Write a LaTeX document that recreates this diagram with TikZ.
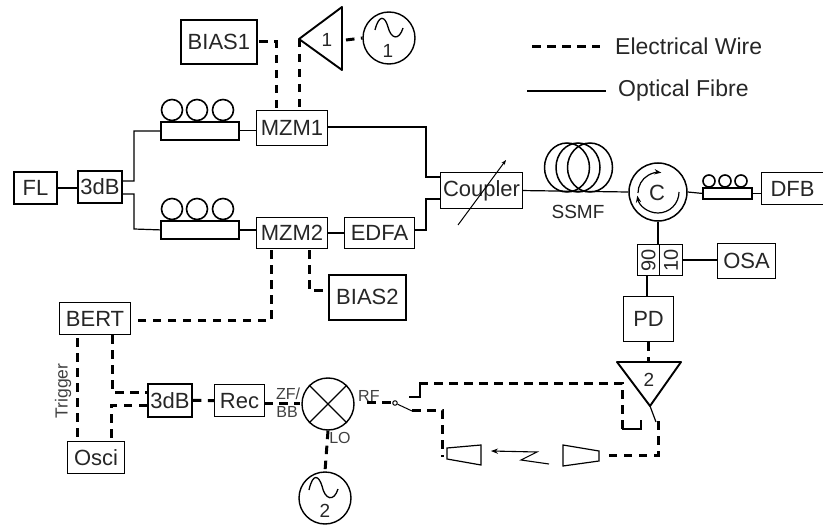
\documentclass[tikz,border=0pt]{standalone}
\usepackage{fontspec}
\setmainfont{Liberation Sans}
\usetikzlibrary{arrows.meta}
\tikzset{
 box/.style={draw,line width=1.1pt,inner sep=0pt,font=\fontsize{22}{22}\selectfont,text=black!85},
 thickbox/.style={box,line width=1.8pt},
 fibre/.style={line width=1.2pt},
 wire/.style={line width=3pt,dash pattern=on 8.5pt off 6.5pt},
 thinwire/.style={line width=1.6pt},
 lab/.style={inner sep=0pt,font=\fontsize{22}{22}\selectfont,text=black!85},
 digit/.style={lab,font=\fontsize{19}{19}\selectfont},
 legendtext/.style={lab,anchor=west,font=\fontsize{23}{23}\selectfont},
 small/.style={inner sep=0pt,font=\fontsize{16}{16}\selectfont,text=black!75},
 coilc/.style={draw,line width=1.6pt,fill=white,circle,inner sep=0pt},
 src/.style={draw,line width=1.4pt,circle,inner sep=0pt,minimum size=52pt},
}
\newcommand{\bx}[6][box]{\node[#1,minimum width=#4pt-#2pt,minimum height=#5pt-#3pt,anchor=north west] (#6) at (#2,#3)}
\begin{document}
\begin{tikzpicture}[x=1pt,y=-1pt]
\useasboundingbox (0,0) rectangle (823,527);
% boxes
\bx[thickbox]{180}{19}{256}{63}{bias1} {BIAS1};
\bx{256}{110}{327}{145}{mzm1} {MZM1};
\bx{256}{217}{327}{248}{mzm2} {MZM2};
\bx{344}{217}{414}{248}{edfa} {EDFA};
\bx[thickbox]{13}{171}{56}{203}{fl} {FL};
\bx[thickbox]{77}{170}{121}{202}{tdb} {3dB};
\bx{440}{172}{522}{208}{coupler} {Coupler};
\bx{761}{172}{823}{204}{dfb} {DFB};
\bx{717}{243}{775}{278}{osa} {OSA};
\bx{623}{296}{673}{341}{pd} {PD};
\bx[thickbox]{328}{274}{405}{319}{bias2} {BIAS2};
\bx{59}{302}{130}{334}{bert} {BERT};
\bx{67}{441}{124}{473}{osci} {Osci};
\bx[thickbox]{147}{383}{191}{416}{tdbb} {3dB};
\bx{214}{384}{264}{416}{rec} {Rec};
% splitter
\bx{637}{244}{659}{275}{s90} {};
\bx{659}{244}{682}{275}{s10} {};
\node[digit,rotate=90,font=\fontsize{20}{20}\selectfont] at (s90) {90};
\node[digit,rotate=90,font=\fontsize{20}{20}\selectfont] at (s10) {10};
% polarisation controllers
\bx[thickbox]{160}{121}{238}{139}{pc1} {};
\bx[thickbox]{160}{220}{238}{238}{pc2} {};
\bx[thickbox]{702}{187}{751}{198}{pc3} {};
\foreach \n/\x in {a/172,b/197,c/223}{
 \node[coilc,minimum size=21pt] (pa\n) at (\x,110) {};
 \node[coilc,minimum size=21pt] (pb\n) at (\x,209) {};
}
\foreach \n/\x in {a/709,b/725,c/741}{
 \node[coilc,minimum size=12pt] (pc\n) at (\x,181) {};
}
% amplifier 1
\coordinate (a1t) at (299,39); \coordinate (a1u) at (342,7); \coordinate (a1d) at (342,70);
\draw[line width=1.9pt,line join=round] (a1t)--(a1u)--(a1d)--cycle;
\node[digit] (a1l) at (327,40) {1};
\node[src] (s1) at (389,38) {};
\draw[line width=1.3pt] (375,30) .. controls (379,14) and (385,16) .. (388,27) .. controls (391,39) and (399,41) .. (403,28);
\node[digit] at (388,51) {1};
% amplifier 2
\coordinate (a2l) at (617,362); \coordinate (a2r) at (681,362); \coordinate (a2t) at (650,406);
\draw[line width=1.9pt,line join=round] (a2l)--(a2r)--(a2t)--cycle;
\node[digit] at (649,380) {2};
% mixer
\node[src] (mix) at (328,404) {};
\draw[line width=1.3pt] (mix.45)--(mix.225) (mix.135)--(mix.315);
\node[src] (s2) at (325,498) {};
\draw[line width=1.3pt] (309,490) .. controls (313,472) and (319,476) .. (322,486) .. controls (325,500) and (334,502) .. (338,489);
\node[digit] at (325,511) {2};
% circulator
\node[draw,line width=1.5pt,circle,inner sep=0pt,minimum size=58pt] (circ) at (658,192) {};
\node[lab] at (657,193) {C};
\draw[line width=1.2pt,-{Stealth[length=7pt]}] (679,192) arc (0:170:21);
\draw[line width=1.2pt,-{Stealth[length=7pt]}] (638,193) arc (180:278:20.5);
% fibre
\coordinate (tu) at (121,181); \coordinate (td) at (121,194);
\coordinate (cu) at (440,177); \coordinate (cd) at (440,199);
\coordinate (m1o) at (327,127); \coordinate (e1o) at (414,230);
\coordinate (s90o) at (647,275); \coordinate (pdi) at (647,296);
\draw[fibre] (fl.east)--(fl.east-|tdb.west);
\draw[fibre] (tu) -| (134,131) -- (pc1.west);
\draw[fibre] (td) -| (134,229) -- (pc2.west);
\draw[fibre] (pc1.east) -- (pc1.east-|mzm1.west);
\draw[fibre] (pc2.east) -- (pc2.east-|mzm2.west);
\draw[fibre] (m1o) -| (426,177) -- (cu);
\draw[fibre,line width=1.6pt] (mzm2.east) -- (edfa.west);
\draw[fibre] (e1o) -| (426,199) -- (cd);
\draw[line width=1pt,-{Stealth[length=5pt]}] (458,225)--(506,160);
\draw[fibre] (coupler.east)--(circ.west);
\draw[fibre] (circ.east)--(pc3.west);
\draw[fibre] (pc3.east)--(pc3.east-|dfb.west);
\draw[fibre] (circ.south)--(circ.south|-s10.north);
\draw[fibre] (s10.east)--(osa.west|-s10.east);
\draw[fibre] (s90o)--(pdi);
\foreach \x/\r in {567/22.5,578/22,590/22.5}{
 \draw[line width=1.5pt] (\x,167.5) ellipse ({\r} and 24.5);
}
\node[lab,font=\fontsize{19}{19}\selectfont] at (578,212) {SSMF};
% electrical
\coordinate (b1) at (259,42);\coordinate (m1a) at (276,108);\coordinate (m1b) at (299,108);
\coordinate (m2a) at (271,250);\coordinate (m2b) at (309,250);
\draw[wire] (b1) -- (276,42) -- (m1a);
\draw[wire] (a1t) -- (m1b);
\draw[wire] (346,40) -- (s1.west);
\draw[wire] (m2a) -- (271,320) -- (138,320);
\draw[wire] (m2b) -- (309,290) -- (bias2.west|-0,290);
\draw[wire] (77,338) -- (77,438);
\draw[wire] (112,335) -- (112,392) -- (147,392);
\draw[wire] (147,405) -- (111,405) -- (111,438);
\draw[wire] (tdbb.east) -- (rec.west);
\draw[wire] (264,403) -- (300,403);
\draw[wire] (mix.south) -- (s2.north);
\draw[wire] (pd.south) -- (pd.south|-a2l);
\draw[wire] (367,402) -- (392,402);
\draw[wire] (412,410) -- (442,410) -- (442,457);
\draw[wire] (419,383) -- (622,383) -- (622,429);
\draw[thinwire] (622,429) -- (641,429) -- (641,420);
\draw[thinwire] (409,397) -- (420,397) -- (420,384);
\draw[wire] (658,421) -- (658,455) -- (603,455);
\draw[line width=1.2pt] (a2t) -- (656,422);
% switch
\node[draw,line width=1pt,circle,inner sep=0pt,minimum size=4.5pt] (sw) at (395,403) {};
\draw[line width=1pt] (sw) -- (412,411);
% antennas
\draw[line width=1.2pt] (447,448)--(481,445)--(481,465)--(447,459)--cycle;
\draw[line width=1.2pt] (563,445)--(599,451)--(599,461)--(563,466)--cycle;
\draw[line width=1.1pt,-{Stealth[length=7pt]}] (549,464)--(521,460)--(537,452)--(491,451);
% labels
\node[small,rotate=90,font=\fontsize{17.5}{17.5}\selectfont] at (63,391) {Trigger};
\node[small] at (288,394) {ZF/};
\node[small] at (287,412) {BB};
\node[small] at (367,396) [anchor=west,xshift=-9pt] {RF};
\node[small] at (340,438) {LO};
% legend
\coordinate (l1a) at (532,47); \coordinate (l1b) at (600,47);
\coordinate (l2a) at (527,91); \coordinate (l2b) at (606,91);
\draw[wire,dash pattern=on 9pt off 6pt] (l1a)--(l1b);
\draw[line width=1.5pt] (l2a)--(l2b);
\node[legendtext] at (615,46) {Electrical Wire};
\node[legendtext] at (618,91) {Optical Fibre};
\end{tikzpicture}
\end{document}
